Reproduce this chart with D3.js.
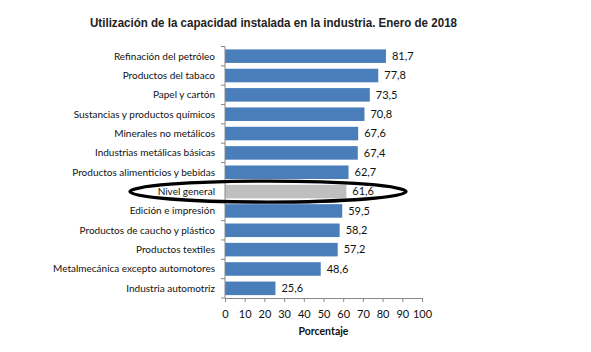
<!DOCTYPE html>
<html><head><meta charset="utf-8">
<script src="https://cdn.jsdelivr.net/npm/d3@7"></script>
<style>body{margin:0;background:#fff}svg{display:block}</style>
</head><body>
<script>
const categories = ["Refinación del petróleo","Productos del tabaco","Papel y cartón","Sustancias y productos químicos","Minerales no metálicos","Industrias metálicas básicas","Productos alimenticios y bebidas","Nivel general","Edición e impresión","Productos de caucho y plástico","Productos textiles","Metalmecánica excepto automotores","Industria automotriz"];
const values = [81.7,77.8,73.5,70.8,67.6,67.4,62.7,61.6,59.5,58.2,57.2,48.6,25.6];
const xTicks = [0,10,20,30,40,50,60,70,80,90,100];
const highlight = "Nivel general";

const W=591,H=352;
const svg=d3.select("body").append("svg").attr("width",W).attr("height",H);
const x=d3.scaleLinear().domain([0,100]).range([225,422]);
const y=d3.scaleBand().domain(categories).range([46.5,298]).paddingInner(0.3).paddingOuter(0.15);
const font="Lato, 'Open Sans', sans-serif";

svg.append("text").attr("x",90).attr("y",27)
 .attr("font-family","'Liberation Sans', Arial, sans-serif").attr("font-weight","bold").attr("font-size",12.6).attr("fill","#222")
 .attr("textLength",367).attr("lengthAdjust","spacingAndGlyphs")
 .text("Utilización de la capacidad instalada en la industria. Enero de 2018");

const data=categories.map((c,i)=>({c,v:values[i]}));
svg.selectAll("rect.bar").data(data).join("rect").attr("class","bar")
 .attr("x",x(0)).attr("y",d=>y(d.c)).attr("width",d=>x(d.v)-x(0)).attr("height",y.bandwidth())
 .attr("fill",d=>d.c===highlight?"#bfbfbf":"#4a7ebb");

svg.selectAll("text.val").data(data).join("text").attr("class","val")
 .attr("x",d=>x(d.v)+6).attr("y",d=>y(d.c)+y.bandwidth()/2).attr("dy","0.35em")
 .attr("font-family",font).attr("font-size",11).attr("fill","#111")
 .text(d=>d3.format(".1f")(d.v).replace(".",","));

// y axis
const yAxisBand=d3.scaleBand().domain(categories).range([46.5,298]);
const ya=svg.append("g").attr("transform",`translate(${x(0)},0)`);
ya.append("line").attr("x1",0).attr("x2",0).attr("y1",46.5).attr("y2",298).attr("stroke","#888");
ya.selectAll("line.t").data(categories.concat(["end"])).join("line").attr("class","t")
 .attr("x1",-4).attr("x2",0).attr("y1",(d,i)=>46.5+i*yAxisBand.step()).attr("y2",(d,i)=>46.5+i*yAxisBand.step()).attr("stroke","#888");
ya.selectAll("text").data(categories).join("text")
 .attr("x",-10).attr("y",d=>yAxisBand(d)+yAxisBand.bandwidth()/2).attr("dy","0.35em").attr("text-anchor","end")
 .attr("font-family",font).attr("font-size",10).attr("fill","#111").text(d=>d);

// x axis
const xa=svg.append("g").attr("transform","translate(0,298)")
 .call(d3.axisBottom(x).tickValues(xTicks).tickSize(4).tickPadding(8).tickFormat(d3.format("d")));
xa.select(".domain").attr("stroke","#888");
xa.selectAll(".tick line").attr("stroke","#888");
xa.selectAll("text").attr("font-family",font).attr("font-size",11).attr("fill","#111");

svg.append("text").attr("x",x(50)).attr("y",335).attr("text-anchor","middle")
 .attr("font-family",font).attr("font-weight","bold").attr("font-size",10.5).attr("fill","#111").text("Porcentaje");

// highlight ellipse
const cy=yAxisBand(highlight)+yAxisBand.bandwidth()/2;
svg.append("ellipse").attr("cx",268).attr("cy",cy).attr("rx",138).attr("ry",10.5)
 .attr("fill","none").attr("stroke","#000").attr("stroke-width",3.4);
</script>
</body></html>
